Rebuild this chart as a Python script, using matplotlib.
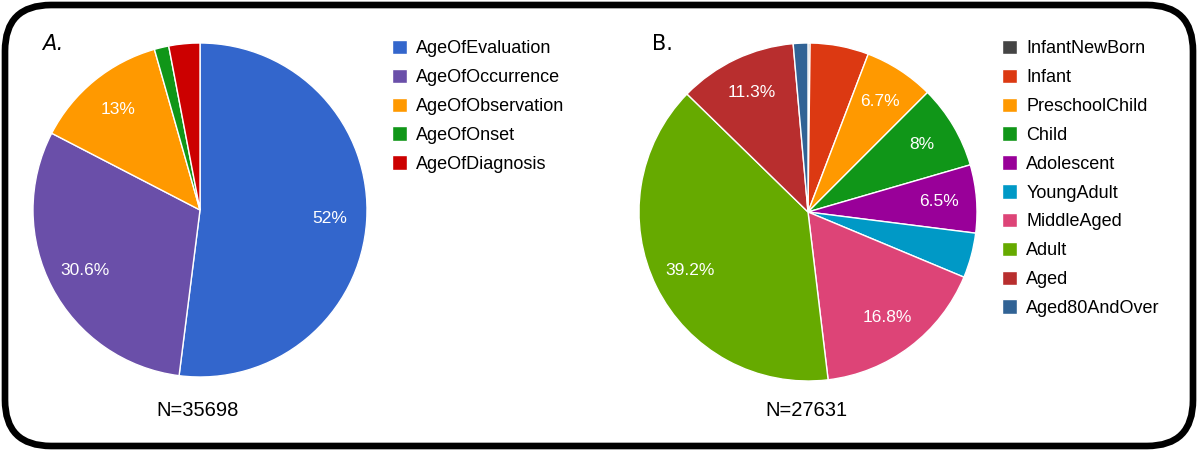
import matplotlib.pyplot as plt
from matplotlib.patches import FancyBboxPatch

# pie A: which age attribute is annotated
labels_a = ['AgeOfEvaluation', 'AgeOfOccurrence', 'AgeOfObservation', 'AgeOfOnset', 'AgeOfDiagnosis']
sizes_a = [52.0, 30.6, 13.0, 1.4, 3.0]
colors_a = ['#3366cc', '#6a4fa9', '#ff9900', '#109618', '#cc0000']

# pie B: age groups
labels_b = ['InfantNewBorn', 'Infant', 'PreschoolChild', 'Child', 'Adolescent',
            'YoungAdult', 'MiddleAged', 'Adult', 'Aged', 'Aged80AndOver']
sizes_b = [0.2, 5.6, 6.7, 8.0, 6.5, 4.3, 16.8, 39.2, 11.3, 1.4]
colors_b = ['#444444', '#dc3912', '#ff9900', '#109618', '#990099',
            '#0099c6', '#dd4477', '#66aa00', '#b82e2e', '#316395']

plt.rcParams['font.family'] = ['Liberation Sans', 'DejaVu Sans']

W, H = 1200, 451
fig = plt.figure(figsize=(W / 100, H / 100), dpi=100)
fig.patch.set_facecolor('white')

# background axes in pixel units for the rounded frame
bg = fig.add_axes([0, 0, 1, 1])
bg.set_xlim(0, W)
bg.set_ylim(H, 0)
bg.axis('off')
bg.add_patch(FancyBboxPatch((5, 5), W - 12, H - 10,
                            boxstyle='round,pad=0,rounding_size=46',
                            fill=False, edgecolor='black', linewidth=4.8))


def fmt(pct):
    if pct < 6:
        return ''
    s = f'{pct:.1f}'
    if s.endswith('.0'):
        s = s[:-2]
    return s + '%'


def pie_axes(cx, cy, r):
    return fig.add_axes([(cx - r) / W, (H - cy - r) / H, 2 * r / W, 2 * r / H])


def draw(ax, sizes, colors):
    wedges, texts, autotexts = ax.pie(
        sizes, colors=colors, startangle=90, counterclock=False,
        autopct=fmt, pctdistance=0.78, radius=1.0,
        wedgeprops=dict(edgecolor='white', linewidth=1.0))
    plt.setp(autotexts, color='white', fontsize=12.5)
    ax.set_xlim(-1, 1)
    ax.set_ylim(-1, 1)
    ax.set_aspect('auto')
    return wedges


ax_a = pie_axes(200, 210, 167)
w_a = draw(ax_a, sizes_a, colors_a)
ax_b = pie_axes(808, 212, 169)
w_b = draw(ax_b, sizes_b, colors_b)

leg_kw = dict(loc='upper left', frameon=False, fontsize=13,
              handlelength=0.85, handleheight=0.85, handletextpad=0.5,
              labelspacing=0.63, borderaxespad=0, borderpad=0,
              bbox_transform=bg.transData)
fig.legend(w_a, labels_a, bbox_to_anchor=(392, 40), **leg_kw)
fig.legend(w_b, labels_b, bbox_to_anchor=(1002, 40), **leg_kw)

bg.text(198, 411, 'N=35698', ha='center', va='center', fontsize=14.5)
bg.text(806, 411, 'N=27631', ha='center', va='center', fontsize=14.5)
bg.text(42, 44, 'A.', ha='left', va='center', fontsize=15, style='italic',
        family='DejaVu Sans')
bg.text(652, 44, 'B.', ha='left', va='center', fontsize=15,
        family='DejaVu Sans')

fig.savefig('out.png', dpi=100)
